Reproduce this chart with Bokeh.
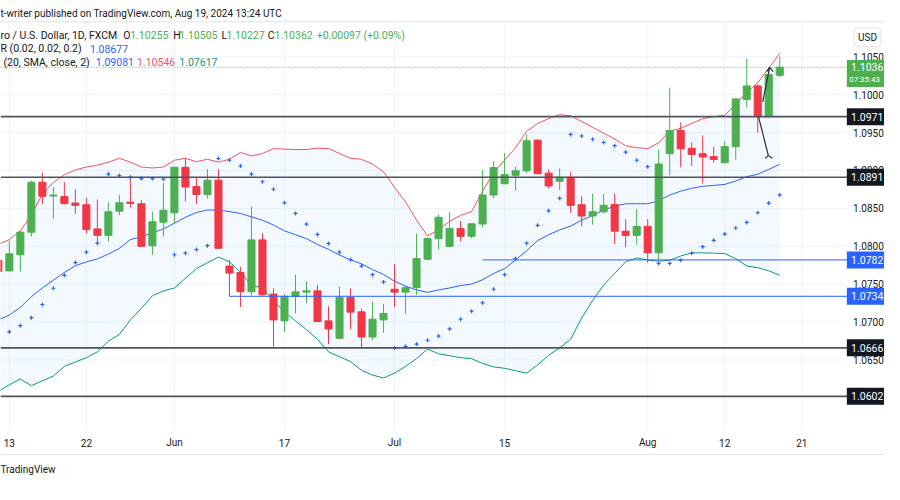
from bokeh.plotting import figure
from bokeh.models import Range1d, Label, ColumnDataSource
from bokeh.core.properties import value
from bokeh.embed import file_html
from bokeh.resources import INLINE

# ---------------- data (daily EUR/USD, bar index 0 = May 13) ----------------
bar_index = list(range(-1, 71))
opens = [1.07816,
         1.07675, 1.07888, 1.08186, 1.08846, 1.08663, 1.08655, 1.08570, 1.08548, 1.08229, 1.08144,
         1.08463, 1.08582, 1.08561, 1.08007, 1.08318, 1.08442, 1.09042, 1.08787, 1.08684, 1.08872,
         1.07739, 1.07654, 1.07399, 1.08084, 1.07369, 1.07016, 1.07339, 1.07395, 1.07412, 1.07016,
         1.06786, 1.07326, 1.07135, 1.06803, 1.07028, 1.07433, 1.07395, 1.07454, 1.07829, 1.08101,
         1.07999, 1.08233, 1.08131, 1.08293, 1.08676, 1.08825, 1.08936, 1.08995, 1.09400, 1.08965,
         1.08859, 1.08910, 1.08548, 1.08399, 1.08455, 1.08552, 1.08199, 1.08144, 1.08263, 1.07914,
         1.09221, 1.09527, 1.09293, 1.09221, 1.09183, 1.09102, 1.09314, 1.09936, 1.10115, 1.09710,
         1.10255]
highs = [1.07850,
         1.08071, 1.08199, 1.08867, 1.08973, 1.08782, 1.08846, 1.08753, 1.08638, 1.08617, 1.08582,
         1.08676, 1.08923, 1.08612, 1.08455, 1.08838, 1.09050, 1.09157, 1.08914, 1.09016, 1.09016,
         1.07816, 1.07731, 1.08523, 1.08169, 1.07446, 1.07369, 1.07624, 1.07539, 1.07488, 1.07207,
         1.07467, 1.07446, 1.07178, 1.07271, 1.07241, 1.07765, 1.07476, 1.08169, 1.08114, 1.08420,
         1.08455, 1.08335, 1.08306, 1.09008, 1.09123, 1.09229, 1.09050, 1.09476, 1.09412, 1.09016,
         1.09029, 1.08978, 1.08659, 1.08697, 1.08689, 1.08697, 1.08357, 1.08489, 1.08357, 1.09272,
         1.10093, 1.09634, 1.09370, 1.09463, 1.09314, 1.09391, 1.09953, 1.10477, 1.10136, 1.10357,
         1.10505]
lows = [1.07620,
        1.07667, 1.07667, 1.08127, 1.08553, 1.08365, 1.08553, 1.08425, 1.08169, 1.08042, 1.08063,
        1.08412, 1.08510, 1.07990, 1.07888, 1.08127, 1.08297, 1.08595, 1.08553, 1.08629, 1.07965,
        1.07339, 1.07199, 1.07348, 1.07348, 1.06675, 1.06871, 1.07114, 1.07250, 1.06999, 1.06709,
        1.06780, 1.06909, 1.06658, 1.06765, 1.06858, 1.07199, 1.07105, 1.07360, 1.07816, 1.07957,
        1.07986, 1.08063, 1.08106, 1.08250, 1.08633, 1.08816, 1.08731, 1.08965, 1.08952, 1.08761,
        1.08740, 1.08442, 1.08263, 1.08284, 1.08433, 1.08029, 1.07986, 1.08020, 1.07782, 1.07816,
        1.08936, 1.09042, 1.09059, 1.08825, 1.09102, 1.09093, 1.09144, 1.09830, 1.09498, 1.09700,
        1.10227]
closes = [1.07667,
          1.07901, 1.08186, 1.08846, 1.08659, 1.08676, 1.08561, 1.08540, 1.08220, 1.08144, 1.08455,
          1.08574, 1.08565, 1.07999, 1.08323, 1.08476, 1.09042, 1.08782, 1.08684, 1.08872, 1.07974,
          1.07646, 1.07399, 1.08084, 1.07360, 1.07028, 1.07339, 1.07399, 1.07412, 1.07007, 1.06909,
          1.07326, 1.07131, 1.06803, 1.07037, 1.07114, 1.07395, 1.07454, 1.07837, 1.08101, 1.08382,
          1.08233, 1.08131, 1.08297, 1.08676, 1.09038, 1.08944, 1.08995, 1.09391, 1.08957, 1.08795,
          1.08910, 1.08540, 1.08399, 1.08455, 1.08540, 1.08199, 1.08144, 1.08263, 1.07914, 1.09085,
          1.09527, 1.09285, 1.09212, 1.09178, 1.09144, 1.09314, 1.09944, 1.10115, 1.09710, 1.10265,
          1.10362]

# Bollinger Bands (20, SMA, close, 2)
bb_upper = [1.08024,
            1.08088, 1.08203, 1.08407, 1.08688, 1.08842, 1.08944, 1.09008, 1.09046, 1.09071, 1.09110,
            1.09161, 1.09110, 1.09046, 1.09033, 1.09046, 1.09135, 1.09161, 1.09116, 1.09148, 1.09110,
            1.09148, 1.09237, 1.09193, 1.09225, 1.09289, 1.09282, 1.09276, 1.09276, 1.09295, 1.09289,
            1.09225, 1.09161, 1.09148, 1.09084, 1.08982, 1.08778, 1.08586, 1.08344, 1.08139, 1.08216,
            1.08331, 1.08407, 1.08458, 1.08727, 1.08969, 1.09135, 1.09301, 1.09518, 1.09621, 1.09684,
            1.09736, 1.09723, 1.09646, 1.09570, 1.09493, 1.09416, 1.09327, 1.09301, 1.09289, 1.09365,
            1.09518, 1.09557, 1.09621, 1.09684, 1.09710, 1.09729, 1.09876, 1.10029, 1.10157, 1.10349,
            1.10546]
bb_basis = [1.07028,
            1.07092, 1.07194, 1.07335, 1.07450, 1.07552, 1.07654, 1.07743, 1.07794, 1.07833, 1.07897,
            1.07973, 1.08088, 1.08126, 1.08177, 1.08229, 1.08305, 1.08382, 1.08446, 1.08478, 1.08478,
            1.08458, 1.08433, 1.08388, 1.08344, 1.08280, 1.08203, 1.08152, 1.08101, 1.08024, 1.07960,
            1.07884, 1.07820, 1.07769, 1.07692, 1.07628, 1.07539, 1.07475, 1.07424, 1.07392, 1.07424,
            1.07450, 1.07481, 1.07501, 1.07558, 1.07641, 1.07705, 1.07820, 1.07941, 1.08075, 1.08152,
            1.08216, 1.08267, 1.08344, 1.08407, 1.08478, 1.08529, 1.08561, 1.08561, 1.08561, 1.08599,
            1.08676, 1.08727, 1.08765, 1.08791, 1.08803, 1.08816, 1.08861, 1.08918, 1.08950, 1.09014,
            1.09081]
bb_lower = [1.06083,
            1.06172, 1.06249, 1.06160, 1.06224, 1.06287, 1.06415, 1.06473, 1.06530, 1.06607, 1.06747,
            1.06837, 1.07028, 1.07181, 1.07347, 1.07411, 1.07450, 1.07577, 1.07705, 1.07782, 1.07858,
            1.07794, 1.07654, 1.07488, 1.07450, 1.07284, 1.07130, 1.07015, 1.06900, 1.06773, 1.06607,
            1.06543, 1.06479, 1.06364, 1.06300, 1.06262, 1.06326, 1.06415, 1.06517, 1.06645, 1.06581,
            1.06556, 1.06530, 1.06517, 1.06453, 1.06409, 1.06390, 1.06358, 1.06326, 1.06434, 1.06562,
            1.06658, 1.06773, 1.07054, 1.07284, 1.07488, 1.07641, 1.07794, 1.07845, 1.07820, 1.07803,
            1.07816, 1.07871, 1.07913, 1.07913, 1.07909, 1.07903, 1.07837, 1.07739, 1.07718, 1.07676,
            1.07617]

# Parabolic SAR (0.02, 0.02, 0.2)
sar_index = list(range(0, 71))
sar = [1.06871, 1.06952, 1.07058, 1.07232, 1.07446, 1.07616, 1.07785, 1.07922, 1.08041, 1.08953,
       1.08931, 1.08912, 1.08893, 1.08893, 1.08886, 1.07888, 1.07909, 1.07957, 1.08008, 1.09157,
       1.09135, 1.09059, 1.08953, 1.08851, 1.08752, 1.08573, 1.08433, 1.08292, 1.08156, 1.08037,
       1.07922, 1.07824, 1.07739, 1.07625, 1.07530, 1.06658, 1.06679, 1.06709, 1.06760, 1.06815,
       1.06909, 1.07037, 1.07143, 1.07254, 1.07433, 1.07625, 1.07837, 1.08041, 1.08276, 1.08467,
       1.08633, 1.09476, 1.09455, 1.09412, 1.09369, 1.09327, 1.09241, 1.09135, 1.09050, 1.07773,
       1.07773, 1.07816, 1.07909, 1.07995, 1.08079, 1.08161, 1.08241, 1.08314, 1.08442, 1.08570,
       1.08677]

# axes
x_tick_index = [0, 7, 15, 25, 35, 45, 58, 65, 72]
x_tick_labels = ["13", "22", "Jun", "17", "Jul", "15", "Aug", "12", "21"]
y_ticks = [1.065, 1.070, 1.075, 1.080, 1.085, 1.090, 1.095, 1.100, 1.105]

# drawn levels
gray_levels = [1.0971, 1.0891, 1.0666, 1.0602]
blue_levels = [1.0782, 1.0734]
blue_level_start = [43, 20]

# drawn arrows (bar index, price)
arrow_x0 = [68.07, 68.96, 68.96, 68.45, 69.08, 69.08]
arrow_y0 = [1.09710, 1.09199, 1.09199, 1.09902, 1.10361, 1.10361]
arrow_x1 = [68.96, 68.69, 69.32, 69.08, 68.81, 69.39]
arrow_y1 = [1.09199, 1.09160, 1.09160, 1.10361, 1.10304, 1.10304]

header_text = "t-writer published on TradingView.com, Aug 19, 2024 13:24 UTC"
symbol_text = "ro / U.S. Dollar, 1D, FXCM"
sar_text = "R (0.02, 0.02, 0.2)"
bb_text = "(20, SMA, close, 2)"
countdown_text = "07:35:43"
currency_text = "USD"
footer_text = "TradingView"

# ---------------- styling ----------------
FONT = "Roboto"
DARK = "#131722"
UP = "#4CAF50"
DOWN = "#F23645"
BLUE = "#2962FF"
BB_UP = "#F7525F"
BB_LO = "#089981"
GRID = "#f0f3fa"
SEP = "#e0e3eb"


# reference-pixel geometry -> data space
def dx(px):
    return (px - 9.0) / 11.205


def dy(py):
    return 1.0971 - (py - 120.0) / 7830.0


CHART_R = 862   # right edge of the chart pane (price scale starts here)
CHART_T = 22
CHART_B = 445

p = figure(width=884, height=484, output_backend="svg", toolbar_location=None,
           x_range=Range1d(dx(0), dx(900)), y_range=Range1d(dy(500), dy(0)),
           x_axis_location=None, y_axis_location=None,
           min_border_left=0, min_border_right=0, min_border_top=0, min_border_bottom=0)
p.outline_line_color = None
p.background_fill_color = "white"
p.border_fill_color = "white"
p.grid.visible = False

# grid lines of the chart pane (at the axis ticks)
p.segment(x0=x_tick_index, y0=dy(CHART_B), x1=x_tick_index, y1=dy(CHART_T),
          line_color=GRID, line_width=1)
p.segment(x0=dx(0), y0=y_ticks, x1=dx(CHART_R), y1=y_ticks, line_color=GRID, line_width=1)

# separators
p.segment(x0=[dx(0), dx(0)], y0=[dy(CHART_T), dy(469)], x1=[dx(900), dx(900)],
          y1=[dy(CHART_T), dy(469)], line_color=SEP, line_width=1)

# Bollinger band fill & lines
p.varea(x=bar_index, y1=bb_lower, y2=bb_upper, fill_color="#2196F3", fill_alpha=0.055)
p.line(bar_index, bb_upper, line_color=BB_UP, line_width=1)
p.line(bar_index, bb_basis, line_color=BLUE, line_width=1)
p.line(bar_index, bb_lower, line_color=BB_LO, line_width=1)

# current price dotted line
p.segment(x0=dx(0), y0=closes[-1], x1=dx(CHART_R), y1=closes[-1], line_color=UP,
          line_dash="1 2", line_width=1)

# candles
colors = [UP if c >= o else DOWN for o, c in zip(opens, closes)]
src = ColumnDataSource(dict(
    x=bar_index, low=lows, high=highs,
    top=[max(o, c) for o, c in zip(opens, closes)],
    bottom=[min(o, c) for o, c in zip(opens, closes)],
    color=colors))
p.segment(x0="x", y0="low", x1="x", y1="high", line_color="color", line_width=1, source=src)
p.vbar(x="x", width=0.64, top="top", bottom="bottom", fill_color="color",
       line_color="color", line_width=1, source=src)

# Parabolic SAR
p.scatter(sar_index, sar, marker="cross", size=4, line_color=BLUE, line_width=1.2)

# drawn levels
n_g = len(gray_levels)
p.segment(x0=[dx(0)] * n_g, y0=gray_levels, x1=[dx(CHART_R)] * n_g, y1=gray_levels,
          line_color="#50535e", line_width=1.6)
p.segment(x0=blue_level_start, y0=blue_levels, x1=[dx(CHART_R)] * len(blue_levels),
          y1=blue_levels, line_color=BLUE, line_width=1)

# arrows
p.segment(x0=arrow_x0, y0=arrow_y0, x1=arrow_x1, y1=arrow_y1, line_color="#2a2e39",
          line_width=1.2)

# ---- price scale (right) ----
p.text(x=[dx(868)] * len(y_ticks), y=y_ticks, text=[f"{t:.4f}" for t in y_ticks],
       text_font=value(FONT), text_font_size="10px", text_color=DARK,
       text_baseline="middle", text_align="left")

badge_prices = gray_levels + blue_levels
badge_colors = ["#131722"] * n_g + [BLUE] * len(blue_levels)
p.rect(x=[dx(881)] * len(badge_prices), y=badge_prices, width=38, height=17,
       width_units="screen", height_units="screen", fill_color=badge_colors,
       line_color=None)
p.text(x=[dx(866)] * len(badge_prices), y=badge_prices,
       text=[f"{v:.4f}" for v in badge_prices], text_font=value(FONT),
       text_font_size="10.5px", text_color="white", text_baseline="middle",
       text_align="left")

# current price badge (price + countdown)
p.rect(x=dx(881), y=dy(75.5), width=38, height=27, width_units="screen",
       height_units="screen", fill_color=UP, line_color=None)
p.text(x=[dx(866), dx(864)], y=[dy(69), dy(82)],
       text=[f"{closes[-1]:.4f}", countdown_text], text_font=value(FONT),
       text_font_size=["10.5px", "8px"], text_color="white", text_baseline="middle",
       text_align="left")

# currency box
p.add_layout(Label(x=dx(869), y=dy(38), text=currency_text, text_color=DARK, text_font=FONT,
                   text_font_size="10px", text_baseline="middle", text_align="left",
                   background_fill_color="white", border_line_color=SEP,
                   padding=4, border_radius=4))

# ---- time scale (bottom) ----
p.text(x=x_tick_index, y=[dy(457)] * len(x_tick_index), text=x_tick_labels,
       text_font=value(FONT), text_font_size="10px", text_color=DARK,
       text_baseline="middle", text_align="center")


def lab(text, xpx, ypx, color=DARK, size="10.5px"):
    p.add_layout(Label(x=dx(xpx), y=dy(ypx), text=text, text_color=color,
                       text_font=FONT, text_font_size=size, text_baseline="middle",
                       text_align="left"))


# header and footer
lab(header_text, 0, 13, size="10px")
lab(footer_text, 0, 485, size="10px")

# legend line 1
lab(symbol_text, 0, 36)
lab("O", 125, 36)
lab(f"{opens[-1]:.5f}", 132, 36, UP)
lab("H", 176, 36)
lab(f"{highs[-1]:.5f}", 182, 36, UP)
lab("L", 225, 36)
lab(f"{lows[-1]:.5f}", 230, 36, UP)
lab("C", 272, 36)
lab(f"{closes[-1]:.5f}", 279, 36, UP)
chg = closes[-1] - closes[-2]
lab(f"+{chg:.5f} (+{chg / closes[-2] * 100:.2f}%)", 322, 36, UP)
# legend line 2
lab(sar_text, 0, 50)
lab(f"{sar[-1]:.5f}", 91, 50, BLUE)
# legend line 3
lab(bb_text, 3, 64)
lab(f"{bb_basis[-1]:.5f}", 97, 64, BLUE)
lab(f"{bb_upper[-1]:.5f}", 139, 64, BB_UP)
lab(f"{bb_lower[-1]:.5f}", 182, 64, BB_LO)

open("out.html", "w").write(file_html(p, INLINE))
